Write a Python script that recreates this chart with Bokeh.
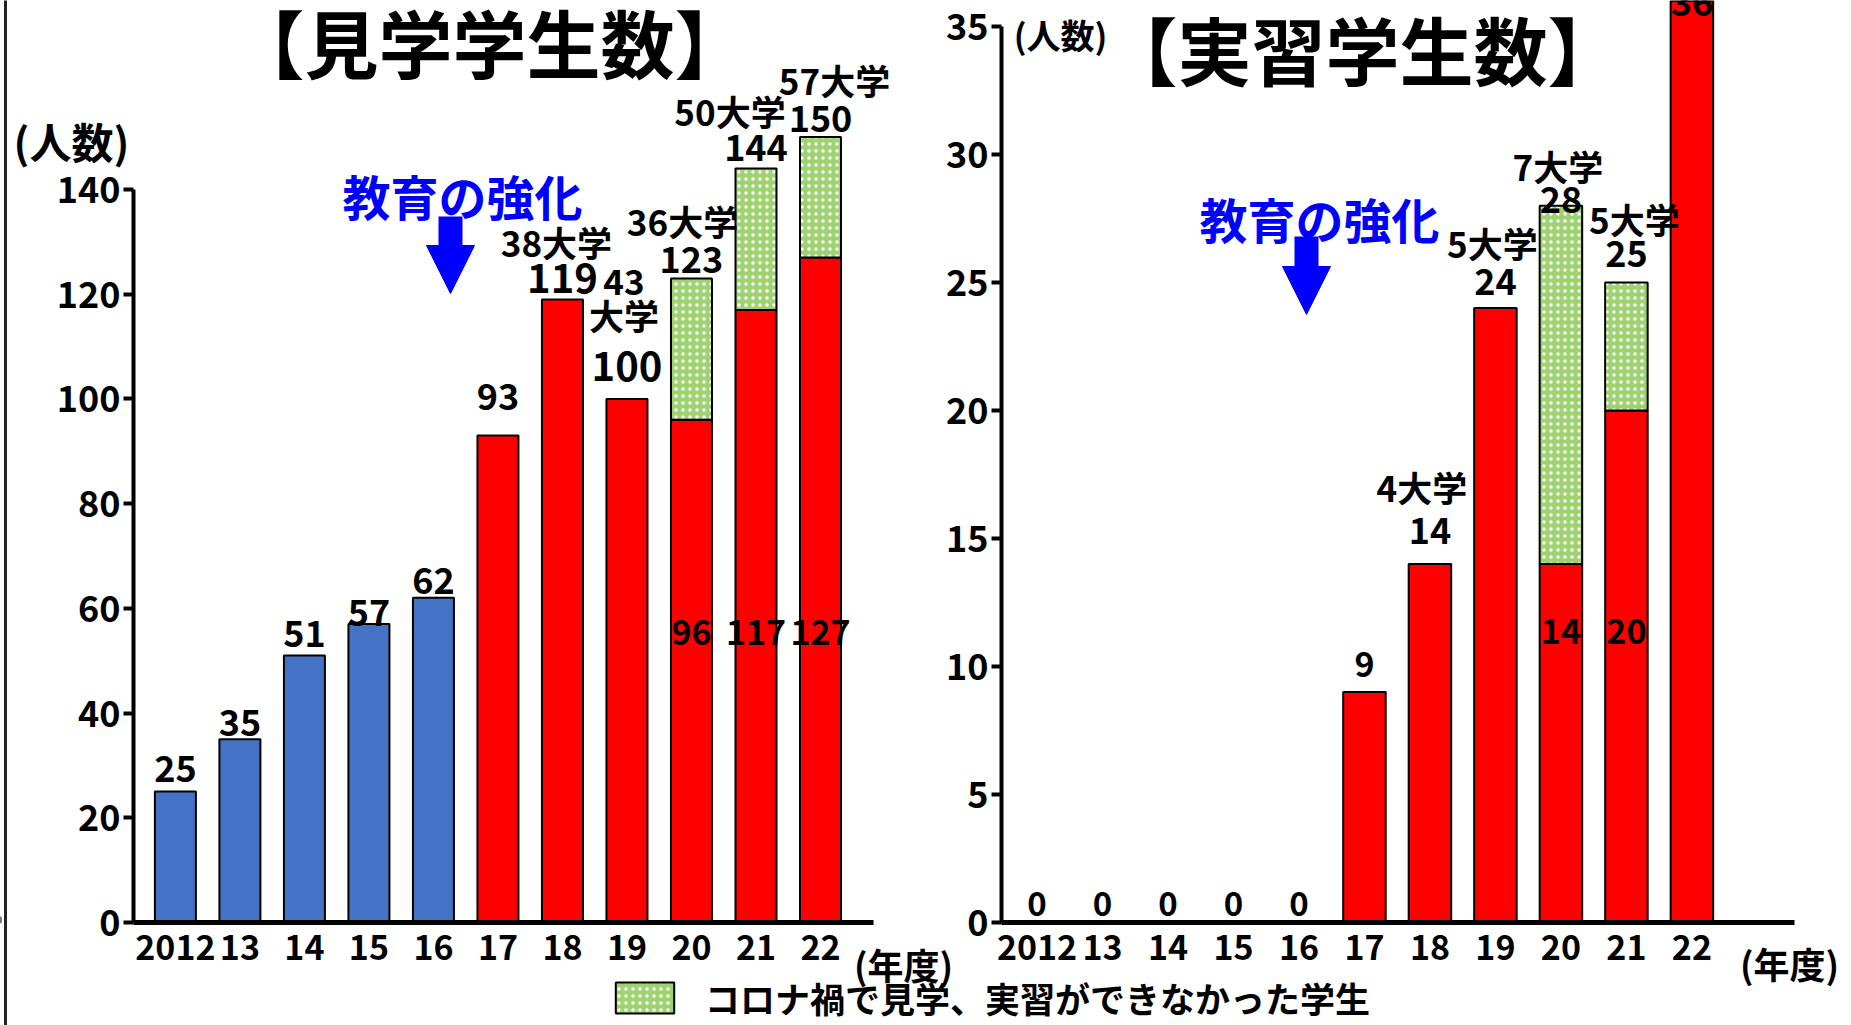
from bokeh.plotting import figure
from bokeh.models import (Range1d, FixedTicker, Label, Arrow, NormalHead, Legend,
                          LegendItem, ColumnDataSource, LinearAxis)
from bokeh.core.properties import value
from bokeh.embed import file_html
from bokeh.resources import INLINE

# ---------------- data ----------------
years = ["2012", "13", "14", "15", "16", "17", "18", "19", "20", "21", "22"]
visit_done = [25, 35, 51, 57, 62, 93, 119, 100, 96, 117, 127]
visit_missed = [0, 0, 0, 0, 0, 0, 0, 0, 27, 27, 23]
visit_unis = ["", "", "", "", "", "", "38大学", "43\n大学", "36大学", "50大学", "57大学"]
intern_done = [0, 0, 0, 0, 0, 9, 14, 24, 14, 20, 36]
intern_missed = [0, 0, 0, 0, 0, 0, 0, 0, 14, 5, 0]
intern_unis = ["", "", "", "", "", "", "4大学", "5大学", "7大学", "5大学", ""]
visit_ticks = [0, 20, 40, 60, 80, 100, 120, 140]
intern_ticks = [0, 5, 10, 15, 20, 25, 30, 35]
strengthen_from = "17"   # 教育の強化 starts in FY2017
legend_label = "コロナ禍で見学、実習ができなかった学生"

# ---------------- style ----------------
JP = "Noto Sans CJK JP"
BLUE = "#4472C4"
RED = "#FF0000"
GREEN = "#9fd271"
ARROW = "#0000FF"
W, H = 1851, 1025
# pixel mapping of each chart (x0 + dx*i, y0 - dy*v)
LX0, LDX, LDY = 174.9, 64.51, 5.236
RX0, RDX, RDY = 1036.5, 65.49, 25.6
Y0 = 922
# label nudges in px (style only)
visit_val_dy = [-23, -17, -22, -12, -17, -39, -21, -33, -19, -21, -19]
visit_uni_dx = [-6, -3, -9, -26, 14]
intern_val_dy = [-19, -19, -19, -19, -19, -28, -34, -27, -6, -29, 2]
intern_uni_dx = [-8, -3, -3, 8]
intern_uni_dy = [-78, -66, -40, -64]

idx = list(range(len(years)))
s_idx = years.index(strengthen_from)

# one frame covering the whole canvas; each chart has its own ranges
p = figure(width=W, height=H, x_range=Range1d(-LX0 / LDX, (W - LX0) / LDX),
           y_range=Range1d(-(H - Y0) / LDY, Y0 / LDY),
           output_backend="svg", toolbar_location=None, min_border=0,
           x_axis_location=None, y_axis_location=None, title=None)
p.extra_x_ranges = {"r": Range1d(-RX0 / RDX, (W - RX0) / RDX)}
p.extra_y_ranges = {"r": Range1d(-(H - Y0) / RDY, Y0 / RDY)}
p.outline_line_color = None
p.background_fill_color = "white"
p.border_fill_color = "white"
for g in p.grid:
    g.visible = False


def add_axes(rn, xb, yticks):
    kw = {} if rn == "default" else dict(x_range_name=rn, y_range_name=rn)
    ax = LinearAxis(fixed_location=0, bounds=xb, ticker=FixedTicker(ticks=idx), **kw)
    ax.major_label_overrides = {i: y for i, y in enumerate(years)}
    ax.axis_line_width = 5
    ax.axis_line_color = "black"
    ax.major_tick_line_color = None
    ax.minor_tick_line_color = None
    ax.major_label_text_font = JP
    ax.major_label_text_font_style = "bold"
    ax.major_label_text_font_size = "34px"
    ax.major_label_text_color = "black"
    ax.major_label_standoff = 6
    p.add_layout(ax, "below")
    ay = LinearAxis(fixed_location=xb[0], bounds=(0, yticks[-1]),
                    ticker=FixedTicker(ticks=yticks), **kw)
    ay.axis_line_width = 4
    ay.axis_line_color = "black"
    ay.major_tick_line_width = 4
    ay.major_tick_line_color = "black"
    ay.major_tick_out = 10
    ay.major_tick_in = 0
    ay.minor_tick_line_color = None
    ay.major_label_text_font = JP
    ay.major_label_text_font_style = "bold"
    ay.major_label_text_font_size = "36px"
    ay.major_label_text_color = "black"
    ay.major_label_standoff = 3
    p.add_layout(ay, "left")


def hatched(x, bottom, top, width, **kw):
    return p.vbar(x=x, bottom=bottom, top=top, width=width, fill_color=GREEN,
                  hatch_pattern="dot", hatch_color="white", hatch_scale=7,
                  hatch_weight=1.2, line_color="black", line_width=2, **kw)


def txt(xs, ys, texts, size, dy=0, dx=0, **kw):
    p.text(x=xs, y=ys, text=texts, text_align="center", text_baseline="alphabetic",
           x_offset=dx, y_offset=dy, text_font=value(JP), text_font_style="bold",
           text_font_size=size, text_color="black", **kw)


def uni_labels(xs, tops, labels, nudges, dys, gap, **kw):
    lx_, ly_, lt, lo, ld = [], [], [], [], []
    for x, t, lab, nd, dy in zip(xs, tops, labels, nudges, dys):
        lines = lab.split("\n")
        for k, line in enumerate(lines):
            lx_.append(x)
            ly_.append(t)
            lt.append(line)
            ld.append(nd)
            lo.append(dy - gap * (len(lines) - 1 - k) - (26 if len(lines) > 1 else 0))
    txt(lx_, ly_, lt, "35px", lo, ld, **kw)


def label(x, y, text, size, color="black", **kw):
    p.add_layout(Label(x=x, y=y, text=text, text_align="center", text_baseline="middle",
                       text_font=JP, text_font_style="bold", text_font_size=size,
                       text_color=color, **kw))


def lx(px):
    return (px - LX0) / LDX


def ly(py):
    return (Y0 - py) / LDY


def rx(px):
    return (px - RX0) / RDX


def ry(py):
    return (Y0 - py) / RDY


# ================= left: 見学学生数 =================
BW1 = 41 / LDX
add_axes("default", (lx(133), lx(873)), visit_ticks)
visit_total = [d + m for d, m in zip(visit_done, visit_missed)]
colors1 = [BLUE if i < s_idx else RED for i in idx]
p.vbar(x="x", top="top", width=BW1, fill_color="c", line_color="black", line_width=2,
       source=ColumnDataSource(dict(x=idx, top=visit_done, c=colors1)))
cx1 = [i for i in idx if visit_missed[i] > 0]
hatched(cx1, [visit_done[i] for i in cx1], [visit_total[i] for i in cx1], BW1)

sizes1 = ["40px" if v in (119, 100) else "36px" for v in visit_total]
txt(idx, visit_total, [str(v) for v in visit_total], sizes1, visit_val_dy)
ux1 = [i for i in idx if visit_unis[i]]
uni_labels(ux1, [visit_total[i] for i in ux1], [visit_unis[i] for i in ux1],
           visit_uni_dx, [-58] * len(ux1), 33)
txt(cx1, [ly(632)] * len(cx1), [str(visit_done[i]) for i in cx1], "34px")

label(lx(489), ly(40), "【見学学生数】", "74px")
label(lx(71), ly(140), "(人数)", "42px")
label(lx(903), ly(963), "(年度)", "36px")
label(lx(462), ly(194), "教育の強化", "48px", ARROW)
p.add_layout(Arrow(end=NormalHead(size=48, fill_color=ARROW, line_color=ARROW),
                   x_start=lx(450), y_start=ly(216), x_end=lx(450), y_end=ly(293),
                   line_width=24, line_color=ARROW))

# ================= right: 実習学生数 =================
R = dict(x_range_name="r", y_range_name="r")
BW2 = 42.5 / RDX
add_axes("r", (rx(1001), rx(1794)), intern_ticks)
intern_total = [d + m for d, m in zip(intern_done, intern_missed)]
rx2 = [i for i in idx if intern_done[i] > 0]
p.vbar(x=rx2, top=[intern_done[i] for i in rx2], width=BW2, fill_color=RED,
       line_color="black", line_width=2, **R)
cx2 = [i for i in idx if intern_missed[i] > 0]
hatched(cx2, [intern_done[i] for i in cx2], [intern_total[i] for i in cx2], BW2, **R)

sizes2 = ["33px" if v == 0 else "34px" if v == 9 else "36px" for v in intern_total]
txt(idx, intern_total, [str(v) for v in intern_total], sizes2, intern_val_dy, **R)
ux2 = [i for i in idx if intern_unis[i]]
uni_labels(ux2, [intern_total[i] for i in ux2], [intern_unis[i] for i in ux2],
           intern_uni_dx, intern_uni_dy, 33, **R)
txt(cx2, [ry(631)] * len(cx2), [str(intern_done[i]) for i in cx2], "34px", **R)

label(rx(1362), ry(47), "【実習学生数】", "74px", **R)
label(rx(1060), ry(34), "(人数)", "34px", **R)
label(rx(1789), ry(962), "(年度)", "36px", **R)
label(rx(1319), ry(217), "教育の強化", "48px", ARROW, **R)
p.add_layout(Arrow(end=NormalHead(size=48, fill_color=ARROW, line_color=ARROW),
                   x_start=rx(1306), y_start=ry(236), x_end=rx(1306), y_end=ry(314),
                   line_width=24, line_color=ARROW, **R))

# ================= legend & page edge =================
r = hatched([-100], [0], [1], 0.1)
p.add_layout(Legend(items=[LegendItem(label=legend_label, renderers=[r])],
                    location=(608, 2), orientation="horizontal", glyph_width=73,
                    glyph_height=39, label_standoff=24, padding=0, margin=0,
                    border_line_color=None, background_fill_alpha=0,
                    label_text_font=JP, label_text_font_style="bold",
                    label_text_color="black",
                    label_text_font_size="35px", label_height=39))
p.quad(left=lx(3.5), right=lx(6.5), bottom=ly(H) - 5, top=ly(0) + 5,
       fill_color="#222222", line_color=None)

open("out.html", "w").write(file_html(p, INLINE))
